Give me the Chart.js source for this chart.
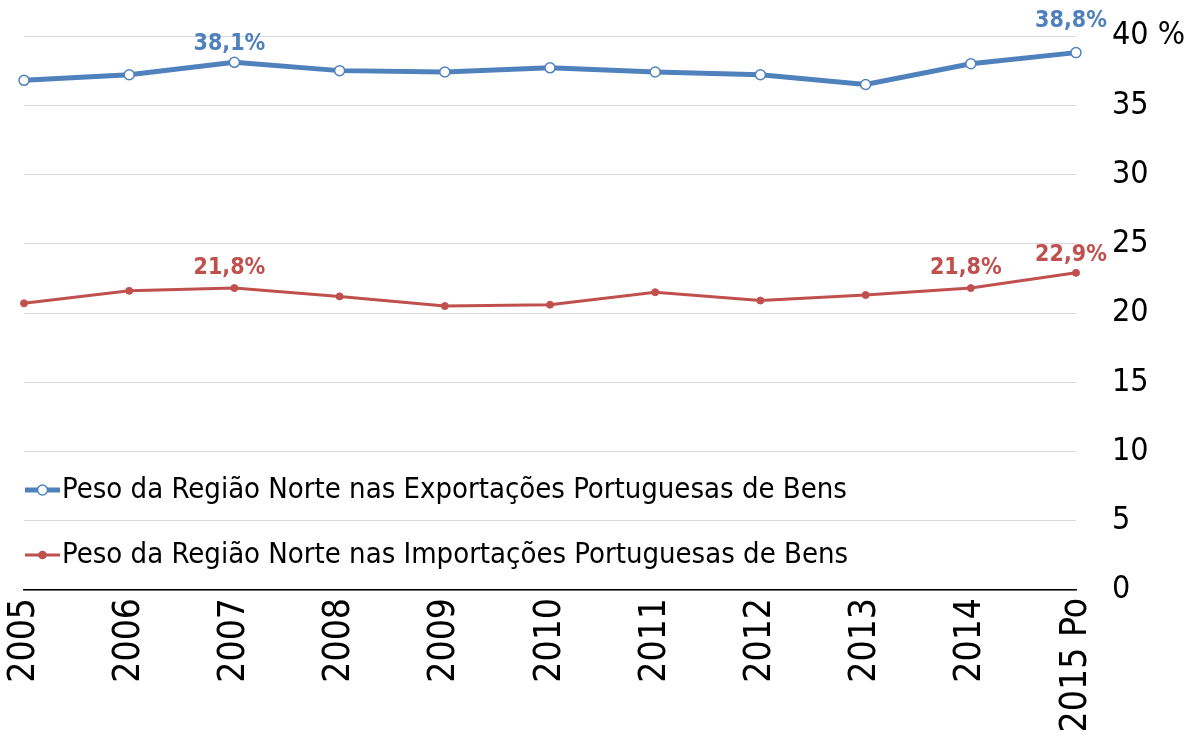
<!DOCTYPE html>
<html>
<head>
<meta charset="utf-8">
<script src="https://cdn.jsdelivr.net/npm/chart.js@4/dist/chart.umd.min.js"></script>
<style>
  html, body { margin: 0; padding: 0; background: #fff; }
  #wrap { width: 1185px; height: 733px; position: relative; }
</style>
</head>
<body>
<div id="wrap"><canvas id="c" width="1185" height="733"></canvas></div>
<script>
const categories = ['2005','2006','2007','2008','2009','2010','2011','2012','2013','2014','2015 Po'];
const exportsShare = [36.8, 37.2, 38.1, 37.5, 37.4, 37.7, 37.4, 37.2, 36.5, 38.0, 38.8];
const importsShare = [20.7, 21.6, 21.8, 21.2, 20.5, 20.6, 21.5, 20.9, 21.3, 21.8, 22.9];
const exportsLabel = 'Peso da Região Norte nas Exportações Portuguesas de Bens';
const importsLabel = 'Peso da Região Norte nas Importações Portuguesas de Bens';
const yTicks = [0, 5, 10, 15, 20, 25, 30, 35, 40];
// which points carry a value label (index lists)
const exportsLabelled = [2, 10];
const importsLabelled = [2, 9, 10];

const BLUE = '#4F81BD';
const RED = '#C0504D';
const NARROW = '"DejaVu Sans Condensed", "Liberation Sans Narrow", sans-serif';

function fmt(v) { return v.toFixed(1).replace('.', ',') + '%'; }

const valueLabels = {
  id: 'valueLabels',
  afterDatasetsDraw(chart) {
    const ctx = chart.ctx;
    const sets = [
      { idx: 0, list: exportsLabelled, color: BLUE, dy: { 2: 7, 10: 20 } },
      { idx: 1, list: importsLabelled, color: RED, dy: { 2: 9, 9: 9, 10: 6 } }
    ];
    ctx.save();
    ctx.font = 'bold 23px ' + NARROW;
    ctx.textAlign = 'center';
    ctx.textBaseline = 'bottom';
    sets.forEach(s => {
      const meta = chart.getDatasetMeta(s.idx);
      const data = chart.data.datasets[s.idx].data;
      s.list.forEach(i => {
        const p = meta.data[i];
        ctx.fillStyle = s.color;
        ctx.fillText(fmt(data[i]), p.x - 5, p.y - (s.dy[i] || 10));
      });
    });
    ctx.restore();
  }
};

const inlineLegend = {
  id: 'inlineLegend',
  afterDraw(chart) {
    const ctx = chart.ctx;
    const items = [
      { ds: chart.data.datasets[0], y: 490, hollow: true, lw: 5, r: 5 },
      { ds: chart.data.datasets[1], y: 555, hollow: false, lw: 3, r: 3.5 }
    ];
    ctx.save();
    items.forEach(it => {
      const col = it.ds.borderColor;
      ctx.strokeStyle = col;
      ctx.lineWidth = it.lw;
      ctx.beginPath();
      ctx.moveTo(25, it.y);
      ctx.lineTo(60, it.y);
      ctx.stroke();
      ctx.beginPath();
      ctx.arc(42.5, it.y, it.r, 0, Math.PI * 2);
      ctx.fillStyle = it.hollow ? '#fff' : col;
      ctx.fill();
      ctx.lineWidth = 1.5;
      ctx.stroke();
      ctx.fillStyle = '#000';
      ctx.font = '29px ' + NARROW;
      ctx.textAlign = 'left';
      ctx.textBaseline = 'middle';
      ctx.fillText(it.ds.label, 62, it.y);
    });
    ctx.restore();
  }
};

new Chart(document.getElementById('c'), {
  type: 'line',
  data: {
    labels: categories,
    datasets: [
      {
        label: exportsLabel,
        data: exportsShare,
        borderColor: BLUE,
        backgroundColor: BLUE,
        borderWidth: 5,
        pointRadius: 5,
        pointBackgroundColor: '#fff',
        pointBorderColor: BLUE,
        pointBorderWidth: 1.5,
        tension: 0
      },
      {
        label: importsLabel,
        data: importsShare,
        borderColor: RED,
        backgroundColor: RED,
        borderWidth: 3,
        pointRadius: 3.5,
        pointBackgroundColor: RED,
        pointBorderColor: RED,
        pointBorderWidth: 1,
        tension: 0
      }
    ]
  },
  options: {
    responsive: false,
    animation: false,
    layout: { padding: { left: 24, top: 36, right: 0, bottom: 0 } },
    plugins: {
      legend: { display: false },
      tooltip: { enabled: false }
    },
    scales: {
      x: {
        offset: false,
        grid: { display: false, drawTicks: false },
        border: { display: true, color: '#000', width: 1.5 },
        ticks: {
          minRotation: 90, maxRotation: 90, autoSkip: false,
          padding: 8,
          color: '#000',
          font: { family: NARROW, size: 37 }
        },
        afterFit(scale) {
          scale.height = 143;
          scale.paddingLeft = 0; scale.paddingRight = 0;
          scale.paddingTop = 0; scale.paddingBottom = 0;
        }
      },
      y: {
        position: 'right',
        min: 0, max: 40,
        afterBuildTicks(scale) { scale.ticks = yTicks.map(v => ({ value: v })); },
        grid: { color: '#d9d9d9', lineWidth: 1, drawTicks: false },
        border: { display: false },
        ticks: {
          padding: 36,
          color: '#000',
          font: { family: NARROW, size: 32 },
          callback: v => v === 40 ? '40 %' : String(v)
        },
        afterFit(scale) {
          scale.width = 109;
          scale.paddingTop = 0; scale.paddingBottom = 0;
          scale.paddingLeft = 0; scale.paddingRight = 0;
        }
      }
    }
  },
  plugins: [valueLabels, inlineLegend]
});
</script>
</body>
</html>
